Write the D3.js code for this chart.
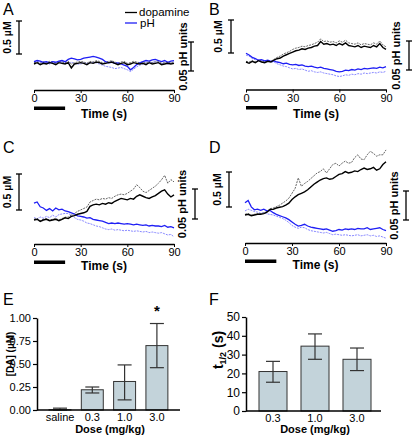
<!DOCTYPE html>
<html><head><meta charset="utf-8">
<script src="https://cdn.jsdelivr.net/npm/d3@7"></script>
<style>body{margin:0;background:#fff}svg{display:block;font-family:"Liberation Sans",Arial,sans-serif}</style>
</head><body>
<script>
// ---------- DATA ----------
const timeS = [0,2,4,6,8,10,12,14,16,18,20,22,24,26,28,30,32,34,36,38,40,42,44,46,48,50,52,54,56,58,60,62,64,66,68,70,72,74,76,78,80,82,84,86,88,90];
const timeTicks = [0,30,60,90];
const stimWindow = [0,20];

// Panel A (dopamine change in uM, pH change in pH units)
const daA = [0.00,0.02,-0.01,0.01,0.00,0.02,0.01,-0.01,0.02,0.01,0.00,0.02,-0.06,0.00,0.01,0.02,0.01,-0.01,0.02,0.01,0.03,0.02,0.00,0.01,0.02,0.03,0.01,-0.01,0.01,0.02,-0.01,0.00,0.02,0.01,0.00,0.01,-0.01,0.02,0.00,0.01,0.02,-0.01,0.00,0.01,0.00,0.01];
const daSemA = [0.02,0.03,0.01,0.03,0.02,0.04,0.03,0.01,0.04,0.03,0.02,0.04,0.00,0.02,0.03,0.04,0.03,0.01,0.04,0.03,0.05,0.04,0.02,0.03,0.04,0.05,0.03,0.01,0.03,0.04,0.01,0.02,0.04,0.03,0.02,0.03,0.01,0.04,0.02,0.03,0.04,0.01,0.02,0.03,0.02,0.03];
const phA = [0.004,0.006,0.005,0.003,0.004,0.002,0.004,0.003,0.005,0.006,0.004,0.008,0.010,0.009,0.007,0.008,0.010,0.011,0.012,0.013,0.012,0.010,0.008,0.004,0.002,0.003,0.001,0.002,0.000,-0.002,-0.004,-0.010,-0.006,-0.001,0.002,0.004,0.006,0.005,0.007,0.008,0.006,0.004,0.006,0.003,0.005,0.006];
const phSemA = [0.003,0.004,0.003,0.001,0.002,0.000,0.002,0.001,0.003,0.003,0.001,0.002,0.003,0.001,0.000,0.000,0.002,0.001,0.002,0.003,0.002,0.000,-0.002,-0.004,-0.005,-0.006,-0.008,-0.007,-0.006,-0.008,-0.010,-0.013,-0.009,-0.005,-0.002,0.000,0.002,0.001,0.003,0.004,0.002,0.000,0.002,0.000,0.001,0.002];

// Panel B
const daB = [0.00,-0.02,0.01,-0.01,0.02,0.00,-0.01,0.01,0.00,0.03,0.05,0.06,0.09,0.11,0.13,0.15,0.17,0.18,0.20,0.19,0.21,0.22,0.24,0.25,0.31,0.27,0.28,0.26,0.27,0.25,0.28,0.26,0.29,0.25,0.24,0.23,0.25,0.22,0.24,0.23,0.22,0.25,0.23,0.28,0.22,0.19];
const daSemB = [0.01,0.00,0.02,0.00,0.03,0.01,0.00,0.02,0.01,0.04,0.07,0.09,0.12,0.14,0.16,0.19,0.21,0.22,0.24,0.23,0.25,0.26,0.28,0.30,0.35,0.31,0.32,0.30,0.31,0.29,0.32,0.30,0.33,0.29,0.28,0.27,0.29,0.26,0.28,0.27,0.26,0.29,0.27,0.32,0.26,0.23];
const phB = [0.015,0.012,0.008,0.006,0.003,0.004,0.002,0.003,0.001,0.002,0.000,-0.001,-0.003,-0.002,-0.004,-0.005,-0.004,-0.006,-0.005,-0.007,-0.008,-0.007,-0.009,-0.010,-0.009,-0.011,-0.012,-0.013,-0.014,-0.016,-0.017,-0.016,-0.014,-0.015,-0.013,-0.014,-0.012,-0.013,-0.011,-0.012,-0.011,-0.010,-0.011,-0.009,-0.010,-0.008];
const phSemB = [0.012,0.010,0.006,0.004,0.002,0.003,0.001,0.002,0.000,0.000,-0.003,-0.005,-0.007,-0.008,-0.010,-0.012,-0.011,-0.013,-0.012,-0.014,-0.016,-0.015,-0.017,-0.018,-0.017,-0.019,-0.020,-0.021,-0.022,-0.024,-0.025,-0.024,-0.022,-0.023,-0.021,-0.022,-0.020,-0.021,-0.019,-0.020,-0.019,-0.018,-0.019,-0.017,-0.018,-0.016];

// Panel C
const daC = [0.00,0.01,-0.02,0.00,0.01,-0.01,0.00,0.01,-0.01,0.01,0.03,0.02,0.05,0.06,0.08,0.09,0.10,0.12,0.19,0.21,0.22,0.21,0.23,0.22,0.24,0.23,0.26,0.28,0.30,0.29,0.28,0.30,0.29,0.33,0.35,0.33,0.31,0.30,0.32,0.34,0.37,0.40,0.42,0.36,0.32,0.35];
const daSemC = [0.01,0.02,-0.01,0.01,0.02,0.00,0.01,0.02,0.00,0.02,0.04,0.04,0.07,0.09,0.12,0.14,0.16,0.18,0.25,0.27,0.29,0.28,0.30,0.29,0.31,0.30,0.33,0.35,0.36,0.35,0.37,0.40,0.43,0.49,0.45,0.40,0.38,0.41,0.44,0.47,0.51,0.56,0.62,0.51,0.56,0.53];
const phC = [0.028,0.030,0.022,0.020,0.016,0.019,0.015,0.020,0.017,0.018,0.015,0.014,0.012,0.010,0.007,0.006,0.005,0.003,0.004,0.001,0.000,-0.001,-0.002,-0.004,-0.006,-0.005,-0.006,-0.005,-0.006,-0.007,-0.006,-0.007,-0.008,-0.007,-0.008,-0.009,-0.008,-0.010,-0.009,-0.010,-0.010,-0.011,-0.009,-0.012,-0.011,-0.013];
const phSemC = [0.004,0.002,0.005,0.003,0.006,0.004,0.008,0.005,0.009,0.010,0.011,0.011,0.008,0.004,0.001,0.000,-0.002,-0.005,-0.006,-0.008,-0.010,-0.011,-0.013,-0.015,-0.016,-0.015,-0.017,-0.016,-0.017,-0.018,-0.017,-0.018,-0.019,-0.018,-0.019,-0.020,-0.019,-0.021,-0.020,-0.021,-0.022,-0.021,-0.023,-0.025,-0.024,-0.028];

// Panel D
const daD = [0.00,0.01,-0.01,0.00,0.01,0.01,0.02,0.04,0.08,0.08,0.10,0.11,0.12,0.14,0.17,0.22,0.26,0.29,0.31,0.33,0.36,0.40,0.44,0.47,0.50,0.52,0.53,0.51,0.52,0.55,0.58,0.59,0.62,0.60,0.61,0.63,0.62,0.65,0.67,0.65,0.66,0.68,0.64,0.66,0.72,0.76];
const daSemD = [0.01,0.02,0.00,0.01,0.02,0.02,0.03,0.05,0.09,0.10,0.12,0.14,0.17,0.20,0.24,0.31,0.38,0.53,0.41,0.45,0.48,0.52,0.56,0.60,0.62,0.66,0.60,0.66,0.72,0.74,0.70,0.74,0.77,0.74,0.75,0.82,0.86,0.80,0.79,0.86,0.91,0.88,0.84,0.86,0.86,0.93];
const phD = [0.021,0.025,0.014,0.009,0.010,0.008,0.010,0.007,0.008,0.004,0.001,-0.001,-0.003,-0.005,-0.008,-0.012,-0.016,-0.019,-0.018,-0.016,-0.019,-0.021,-0.022,-0.023,-0.024,-0.025,-0.024,-0.026,-0.028,-0.027,-0.025,-0.026,-0.024,-0.025,-0.024,-0.025,-0.023,-0.024,-0.024,-0.022,-0.025,-0.024,-0.023,-0.022,-0.025,-0.027];
const phSemD = [0.007,0.010,0.008,0.006,0.005,0.003,0.004,0.002,0.001,0.000,-0.002,-0.004,-0.006,-0.009,-0.013,-0.018,-0.021,-0.023,-0.021,-0.022,-0.025,-0.027,-0.028,-0.029,-0.030,-0.031,-0.030,-0.032,-0.034,-0.033,-0.034,-0.035,-0.034,-0.035,-0.036,-0.035,-0.034,-0.036,-0.035,-0.034,-0.036,-0.035,-0.037,-0.036,-0.038,-0.040];

// Panel E
const doseCatsE = ["saline","0.3","1.0","3.0"];
const daPeak = [0.003,0.22,0.31,0.70];
const daPeakLo = [0.000,0.185,0.11,0.46];
const daPeakHi = [0.02,0.25,0.49,0.94];
const daTicks = [0,0.25,0.5,0.75,1.0];
const sigCat = "3.0";

// Panel F
const doseCatsF = ["0.3","1.0","3.0"];
const tHalf = [21,34.5,27.5];
const tHalfLo = [15.3,27.5,21.5];
const tHalfHi = [26.4,41,33.5];
const tHalfTicks = [0,10,20,30,40,50];

// ---------- DRAW ----------
const W = 412, H = 440;
const svg = d3.select("body").append("svg").attr("width", W).attr("height", H);
const BLUE = "#1f1ff5", LBLUE = "#7a7aff", GRAY = "#555";
const FONT = "Liberation Sans, Arial, sans-serif";

const traces = [
  {tag:"A", tagX:3, tagY:15, da:daA, daSem:daSemA, ph:phA, phSem:phSemA, x0:34, x1:174, axisY:90, y0:64, daPx:66, phPx:580, lx:19, lTop:21, lTx:7, rx:191, rTop:42, rTx:183, timeY:118, legend:true},
  {tag:"B", tagX:209, tagY:15, da:daB, daSem:daSemB, ph:phB, phSem:phSemB, x0:246, x1:386, axisY:89.5, y0:62, daPx:66, phPx:580, lx:231, lTop:20, lTx:218, rx:409, rTop:41, rTx:396, timeY:118},
  {tag:"C", tagX:3, tagY:153, da:daC, daSem:daSemC, ph:phC, phSem:phSemC, x0:34, x1:174, axisY:244, y0:220, daPx:72, phPx:600, lx:19, lTop:174, lTx:7, rx:195, rTop:189, rTx:182, timeY:269.5},
  {tag:"D", tagX:209, tagY:153, da:daD, daSem:daSemD, ph:phD, phSem:phSemD, x0:245, x1:386, axisY:243, y0:215, daPx:70, phPx:580, lx:229, lTop:172, lTx:217, rx:406, rTop:191, rTx:394, timeY:269}
];

function scaleBar(g, x, top, len) {
  g.append("line").attr("x1",x).attr("x2",x).attr("y1",top).attr("y2",top+len).attr("stroke","#000").attr("stroke-width",1.3);
  [top, top+len].forEach(yy => g.append("line").attr("x1",x-3).attr("x2",x+3).attr("y1",yy).attr("y2",yy).attr("stroke","#000").attr("stroke-width",1.3));
}
function vText(g, cx, cy, txt, size) {
  g.append("text").attr("transform",`translate(${cx},${cy}) rotate(-90)`).attr("text-anchor","middle")
    .attr("dy","0.35em").attr("font-size",size).attr("font-weight","bold").text(txt);
}

traces.forEach(p => {
  const g = svg.append("g");
  const x = d3.scaleLinear().domain([0,90]).range([p.x0,p.x1]);
  const yDA = d3.scaleLinear().domain([0,1]).range([p.y0, p.y0 - p.daPx]);
  const yPH = d3.scaleLinear().domain([0,1]).range([p.y0, p.y0 - p.phPx]);
  const mk = (arr, ys) => d3.line().x((d,i)=>x(timeS[i])).y(d=>ys(d))(arr);

  g.append("path").attr("d",mk(p.phSem,yPH)).attr("fill","none").attr("stroke",LBLUE).attr("stroke-width",0.9).attr("stroke-dasharray","2,1");
  g.append("path").attr("d",mk(p.daSem,yDA)).attr("fill","none").attr("stroke",GRAY).attr("stroke-width",0.9).attr("stroke-dasharray","2,1");
  g.append("path").attr("d",mk(p.ph,yPH)).attr("fill","none").attr("stroke",BLUE).attr("stroke-width",1.3);
  g.append("path").attr("d",mk(p.da,yDA)).attr("fill","none").attr("stroke","#000").attr("stroke-width",1.4);

  const ax = g.append("g").attr("transform",`translate(0,${p.axisY})`)
    .call(d3.axisBottom(x).tickValues(timeTicks).tickSize(3).tickSizeOuter(0).tickPadding(1.5));
  ax.select(".domain").attr("stroke-width",1.5);
  ax.selectAll("text").attr("font-size",11).attr("font-family",FONT).attr("fill","#000");

  g.append("rect").attr("x",x(stimWindow[0])).attr("width",x(stimWindow[1])-x(stimWindow[0]))
    .attr("y",p.axisY+16.5).attr("height",3.5).attr("fill","#000");
  g.append("text").attr("x",(p.x0+p.x1)/2).attr("y",p.timeY).attr("text-anchor","middle")
    .attr("font-size",12).attr("font-weight","bold").text("Time (s)");

  const daLen = yDA(0) - yDA(0.5), phLen = yPH(0) - yPH(0.05);
  scaleBar(g, p.lx, p.lTop, daLen);
  vText(g, p.lTx, p.lTop + daLen/2, "0.5 \u00b5M", 10.5);
  scaleBar(g, p.rx, p.rTop, phLen);
  vText(g, p.rTx, p.rTop + phLen/2, "0.05 pH units", 11);

  g.append("text").attr("x",p.tagX).attr("y",p.tagY).attr("font-size",16).text(p.tag);

  if (p.legend) {
    g.append("line").attr("x1",125).attr("x2",137).attr("y1",12.5).attr("y2",12.5).attr("stroke","#000").attr("stroke-width",1.3);
    g.append("text").attr("x",139).attr("y",15.5).attr("font-size",11.5).text("dopamine");
    g.append("line").attr("x1",125).attr("x2",137).attr("y1",23).attr("y2",23).attr("stroke",BLUE).attr("stroke-width",1.3);
    g.append("text").attr("x",140).attr("y",27).attr("font-size",11.5).text("pH");
  }
});

// Bar panels
function barPanel(o) {
  const g = svg.append("g");
  const x = d3.scaleBand().domain(o.cats).range(o.xr).paddingInner(o.pi).paddingOuter(o.pi/2);
  const y = d3.scaleLinear().domain(o.dom).range(o.yr);
  const bw = x.bandwidth();
  o.vals.forEach((v,i) => {
    const c = o.cats[i];
    g.append("rect").attr("x",x(c)).attr("width",bw).attr("y",y(v)).attr("height",y(0)-y(v))
      .attr("fill","#c3d3da").attr("stroke","#333").attr("stroke-width",1);
    const cx = x(c)+bw/2;
    g.append("line").attr("x1",cx).attr("x2",cx).attr("y1",y(o.hi[i])).attr("y2",y(o.lo[i])).attr("stroke","#333").attr("stroke-width",1.2);
    [o.hi[i],o.lo[i]].forEach(vv => g.append("line").attr("x1",cx-7).attr("x2",cx+7).attr("y1",y(vv)).attr("y2",y(vv)).attr("stroke","#333").attr("stroke-width",1.2));
  });
  const ya = g.append("g").attr("transform",`translate(${o.axX},0)`)
    .call(d3.axisLeft(y).tickValues(o.ticks).tickFormat(o.fmt).tickSize(4).tickSizeOuter(0).tickPadding(2));
  ya.select(".domain").attr("stroke-width",1.5);
  ya.selectAll("line").attr("stroke-width",1.2);
  ya.selectAll("text").attr("font-size",o.tickFs).attr("font-family",FONT).attr("fill","#000");
  g.append("line").attr("x1",o.axX).attr("x2",o.axEnd).attr("y1",y(0)).attr("y2",y(0)).attr("stroke","#000").attr("stroke-width",1.5);
  const xa = g.append("g").attr("transform",`translate(0,${y(0)})`).call(d3.axisBottom(x).tickSize(0).tickPadding(3));
  xa.select(".domain").remove();
  xa.selectAll("text").attr("font-size",11).attr("font-family",FONT).attr("fill","#000");
  g.append("text").attr("x",o.doseX).attr("y",433).attr("text-anchor","middle").attr("font-size",11).attr("font-weight","bold").text("Dose (mg/kg)");
  g.append("text").attr("x",o.tagX).attr("y",305).attr("font-size",16).text(o.tag);
  return {g,x,y,bw};
}

const E = barPanel({tag:"E", tagX:3, cats:doseCatsE, vals:daPeak, lo:daPeakLo, hi:daPeakHi, xr:[43.85,173.05], pi:0.32,
  dom:[0,1], yr:[410,318], ticks:daTicks, fmt:d3.format(".2f"), tickFs:11, axX:37, axEnd:180, doseX:110});
E.g.append("text").attr("transform","translate(10,354) rotate(-90)").attr("text-anchor","middle").attr("dy","0.35em")
  .attr("font-size",10).attr("font-weight","bold").text("[DA] (\u00b5M)");
const si = doseCatsE.indexOf(sigCat);
E.g.append("text").attr("x",E.x(sigCat)+E.bw/2).attr("y",E.y(daPeakHi[si])-8).attr("text-anchor","middle")
  .attr("font-size",15).attr("font-weight","bold").text("*");

const F = barPanel({tag:"F", tagX:209, cats:doseCatsF, vals:tHalf, lo:tHalfLo, hi:tHalfHi, xr:[252,378], pi:0.333,
  dom:[0,50], yr:[411,317], ticks:tHalfTicks, fmt:d3.format("d"), tickFs:12, axX:246, axEnd:381, doseX:315});
const tl = F.g.append("text").attr("transform","translate(218,350) rotate(-90)").attr("text-anchor","middle").attr("dy","0.35em")
  .attr("font-size",14).attr("font-weight","bold");
tl.append("tspan").text("t");
tl.append("tspan").attr("font-size",9).attr("dy","3").text("1/2");
tl.append("tspan").attr("dy","-3").text(" (s)");
</script>
</body></html>
